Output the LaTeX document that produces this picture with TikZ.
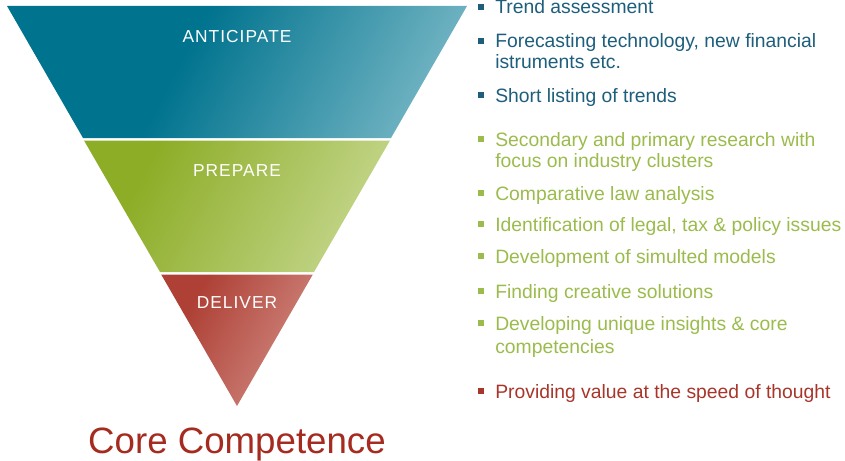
\documentclass[tikz,border=0pt]{standalone}
\usepackage{fontspec}
\setmainfont{Liberation Sans}
\newfontfamily\labelfont[LetterSpace=6]{Liberation Sans}
\definecolor{tdark}{HTML}{00738E}
\definecolor{tlight}{HTML}{70B3C2}
\definecolor{gdark}{HTML}{8DAD27}
\definecolor{glight}{HTML}{C4D68C}
\definecolor{rdark}{HTML}{AE4035}
\definecolor{rlight}{HTML}{D18B83}
\definecolor{tblue}{HTML}{1D5E7C}
\definecolor{tgreen}{HTML}{9BBB4C}
\definecolor{tred}{HTML}{A8352A}
\definecolor{tcore}{HTML}{A52A1F}
\pgfdeclarehorizontalshading{tealsh}{100bp}{color(0bp)=(tdark); color(42bp)=(tdark); color(76bp)=(tlight); color(100bp)=(tlight)}
\pgfdeclarehorizontalshading{greensh}{100bp}{color(0bp)=(gdark); color(30bp)=(gdark); color(76bp)=(glight); color(100bp)=(glight)}
\pgfdeclarehorizontalshading{redsh}{100bp}{color(0bp)=(rdark); color(30bp)=(rdark); color(76bp)=(rlight); color(100bp)=(rlight)}
\tikzset{
  item/.style={anchor=base west, inner sep=0pt, font=\fontsize{14.5pt}{17pt}\selectfont},
  seclabel/.style={anchor=base, inner sep=0pt, text=white, font=\labelfont\fontsize{13pt}{15pt}\selectfont},
  coretext/.style={anchor=base, inner sep=0pt, text=tcore, font=\fontsize{27.5pt}{30pt}\selectfont},
}
\newcommand\bulletitem[4]{%
  \node[item, text=#3] (#1) at (495,#2) {#4};
  \fill[#3] ([shift={(-17,-4)}]#1.base west) rectangle ++(6,-6);
}
\newcommand\contline[4]{%
  \node[item, text=#3] (#1) at (495,#2) {#4};
}
\begin{document}
\begin{tikzpicture}[x=0.75pt,y=-0.75pt]
\useasboundingbox (0,0) rectangle (845,460);
% funnel
\shade[shading=tealsh, shading angle=-28] (7,6) -- (467,6) -- (391,138) -- (83,138) -- cycle;
\shade[shading=greensh, shading angle=-28] (84,140.5) -- (390,140.5) -- (314,272) -- (160,272) -- cycle;
\shade[shading=redsh, shading angle=-28] (161.2,274.5) -- (312.8,274.5) -- (237,406) -- cycle;
\node[seclabel] (ant) at (237,43) {ANTICIPATE};
\node[seclabel] (prep) at (237,176) {PREPARE};
\node[seclabel] (del) at (237,308) {DELIVER};
\node[coretext] (core) at (237,453) {Core Competence};
% items
\bulletitem{i1}{14}{tblue}{Trend assessment}
\bulletitem{i2}{48}{tblue}{Forecasting technology, new financial}
\contline{i2b}{68.5}{tblue}{istruments etc.}
\bulletitem{i3}{102}{tblue}{Short listing of trends}
\bulletitem{i4}{146}{tgreen}{Secondary and primary research with}
\contline{i4b}{167}{tgreen}{focus on industry clusters}
\bulletitem{i5}{200}{tgreen}{Comparative law analysis}
\bulletitem{i6}{231}{tgreen}{Identification of legal, tax \& policy issues}
\bulletitem{i7}{263}{tgreen}{Development of simulted models}
\bulletitem{i8}{298}{tgreen}{Finding creative solutions}
\bulletitem{i9}{330}{tgreen}{Developing unique insights \& core}
\contline{i9b}{353}{tgreen}{competencies}
\bulletitem{i10}{398}{tred}{Providing value at the speed of thought}
\end{tikzpicture}
\end{document}
